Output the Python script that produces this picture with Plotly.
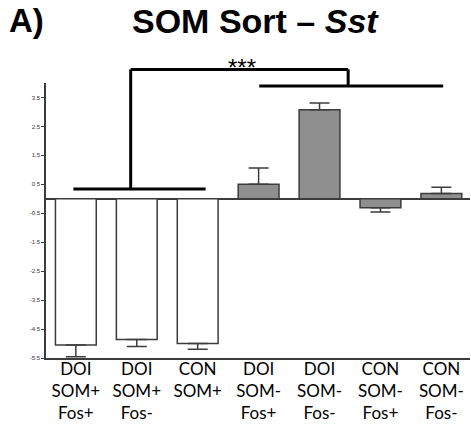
import plotly.graph_objects as go

# bar data (fold change, mean +/- SEM)
groups = [
    "DOI<br>SOM+<br>Fos+",
    "DOI<br>SOM+<br>Fos-",
    "CON<br>SOM+",
    "DOI<br>SOM-<br>Fos+",
    "DOI<br>SOM-<br>Fos-",
    "CON<br>SOM-<br>Fos+",
    "CON<br>SOM-<br>Fos-",
]
means = [-5.05, -4.86, -5.0, 0.5, 3.08, -0.31, 0.18]
sems = [0.41, 0.24, 0.2, 0.56, 0.23, 0.15, 0.22]
bar_fills = ["white", "white", "white", "#8f8f8f", "#8f8f8f", "#8f8f8f", "#8f8f8f"]

y_ticks = [3.5, 2.5, 1.5, 0.5, -0.5, -1.5, -2.5, -3.5, -4.5, -5.5]

# significance bracket: two group bars joined by a top bar
left_bar = (-0.04, 2.13, 0.34)
right_bar = (3.01, 6.03, 3.9)
top_bar = (0.9, 4.47, 4.47)
stars = "***"

Y_MIN, Y_MAX = -5.5, 4.0
EDGE = "#3c3c3c"


def paper_y(value: float) -> float:
    """Map a data value to paper coords so the bracket can sit above the axis."""
    return (value - Y_MIN) / (Y_MAX - Y_MIN)


err_plus = [s if m >= 0 else 0 for m, s in zip(means, sems)]
err_minus = [s if m < 0 else 0 for m, s in zip(means, sems)]

fig = go.Figure()
fig.add_trace(
    go.Bar(
        x=groups,
        y=means,
        marker=dict(color=bar_fills, line=dict(color=EDGE, width=1.5)),
        error_y=dict(
            type="data",
            symmetric=False,
            array=err_plus,
            arrayminus=err_minus,
            color=EDGE,
            thickness=1.5,
            width=10,
        ),
        showlegend=False,
    )
)

line_style = dict(color="black", width=3)
for x0, x1, y in (left_bar, right_bar, top_bar):
    fig.add_shape(
        type="line", xref="x", yref="paper",
        x0=x0, x1=x1, y0=paper_y(y), y1=paper_y(y), line=line_style,
    )
# drops from the top bar down to each group bar
fig.add_shape(
    type="line", xref="x", yref="paper",
    x0=top_bar[0], x1=top_bar[0], y0=paper_y(top_bar[2]), y1=paper_y(left_bar[2]),
    line=line_style,
)
fig.add_shape(
    type="line", xref="x", yref="paper",
    x0=top_bar[1], x1=top_bar[1], y0=paper_y(top_bar[2]), y1=paper_y(right_bar[2]),
    line=line_style,
)

fig.add_annotation(
    x=2.73, xref="x",
    y=paper_y(top_bar[2]), yref="paper",
    text=stars, showarrow=False, yanchor="bottom", yshift=-14,
    font=dict(family="Liberation Sans", size=24, color="black"),
)

fig.add_annotation(
    x=0.495, xref="paper", y=1.227, yref="paper",
    text="<b>SOM Sort – <i>Sst</i></b>", showarrow=False,
    xanchor="center", yanchor="middle",
    font=dict(family="Liberation Sans", size=34, color="black"),
)
fig.add_annotation(
    x=-0.093, xref="paper", y=1.227, yref="paper",
    text="<b>A)</b>", showarrow=False,
    xanchor="left", yanchor="middle",
    font=dict(family="Liberation Sans", size=33, color="black"),
)

fig.update_layout(
    width=471,
    height=429,
    margin=dict(l=46, r=1, t=83, b=71),
    paper_bgcolor="white",
    plot_bgcolor="white",
    bargap=0.33,
    font=dict(family="Lato", color="black"),
)
fig.update_xaxes(
    type="category",
    range=[-0.49, 6.47],
    showline=True,
    linecolor=EDGE,
    linewidth=1.5,
    ticks="",
    ticklabelstandoff=-5,
    showgrid=False,
    tickfont=dict(family="Lato", size=17, color="black"),
    automargin=False,
)
fig.update_yaxes(
    range=[Y_MIN, Y_MAX],
    showline=True,
    linecolor=EDGE,
    linewidth=1.5,
    ticks="outside",
    ticklen=3,
    tickwidth=1,
    tickcolor=EDGE,
    tickvals=y_ticks,
    ticktext=[f"{v:.1f}" for v in y_ticks],
    tickfont=dict(family="Liberation Sans", size=6, color="#333333"),
    showgrid=False,
    zeroline=True,
    zerolinecolor=EDGE,
    zerolinewidth=1.5,
    automargin=False,
)

# the page's default body margin would push the figure 8px off the window
fig.write_html(
    "out.html",
    config={"displayModeBar": False},
    post_script="document.body.style.margin = '0';",
)
